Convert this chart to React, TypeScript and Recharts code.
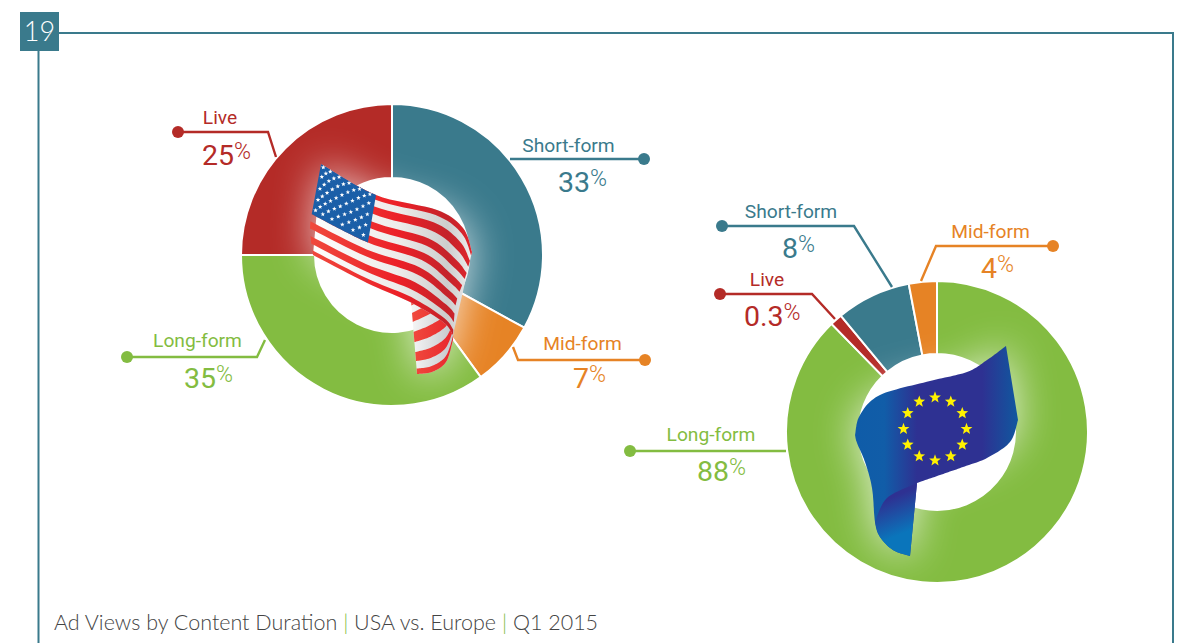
import React from "react";
import { PieChart, Pie, Cell } from "recharts";

type Pt = [number, number];

const categories = ["Short-form", "Mid-form", "Long-form", "Live"];
const usaValues = [33, 7, 35, 25];
const usaLabels = ["33", "7", "35", "25"];

// Europe runs from the top clockwise. Arc sizes are read from the drawn slices,
// the printed labels are a separate list since they do not add up the same way
const europeCategories = ["Long-form", "Live", "Short-form", "Mid-form"];
const europeArcs = [87.7, 1.3, 8, 3];
const europeLabels = ["88", "0.3", "8", "4"];

const COLORS: Record<string, string> = {
  "Short-form": "#3a7a8c",
  "Mid-form": "#e68325",
  "Long-form": "#83bc41",
  Live: "#b42b27",
};

const usaData = categories.map((name, i) => ({ name, value: usaValues[i] }));
const europeData = europeCategories.map((name, i) => ({ name, value: europeArcs[i] }));

const FONT = "Roboto";

// ---- callouts: leader line, dot and the two text rows
const usaCallouts = [
  { name: "Live", line: [[178, 132], [268, 132], [276, 157]], x: 220, y1: 124, x2: 202, y2: 165 },
  { name: "Short-form", line: [[644, 159], [510, 159]], x: 568.5, y1: 152, x2: 558, y2: 192 },
  { name: "Mid-form", line: [[645, 360], [518, 360], [513, 347]], x: 582.5, y1: 350, x2: 573, y2: 388 },
  { name: "Long-form", line: [[127, 357], [257, 357], [265, 340]], x: 197.5, y1: 347, x2: 184, y2: 388 },
];
const europeCallouts = [
  { name: "Short-form", line: [[722, 226], [854, 226], [892, 287]], x: 791, y1: 218, x2: 782, y2: 258 },
  { name: "Mid-form", line: [[1053, 246], [936, 246], [921, 281]], x: 990.5, y1: 238, x2: 981, y2: 278 },
  { name: "Live", line: [[720, 294], [812, 294], [835, 319]], x: 767, y1: 286, x2: 744, y2: 326 },
  { name: "Long-form", line: [[630, 451], [786, 451]], x: 711, y1: 441, x2: 697, y2: 481 },
];

// ---- flag geometry helpers
function cr(pts: Pt[], t: number): Pt {
  const n = pts.length - 1;
  const f = Math.min(Math.max(t, 0), 1) * n;
  const i = Math.min(Math.floor(f), n - 1);
  const s = f - i;
  const p0 = pts[Math.max(i - 1, 0)];
  const p1 = pts[i];
  const p2 = pts[i + 1];
  const p3 = pts[Math.min(i + 2, n)];
  const at = (k: 0 | 1) =>
    0.5 *
    (2 * p1[k] +
      (p2[k] - p0[k]) * s +
      (2 * p0[k] - 5 * p1[k] + 4 * p2[k] - p3[k]) * s * s +
      (3 * p1[k] - p0[k] - 3 * p2[k] + p3[k]) * s * s * s);
  return [at(0), at(1)];
}

function surf(rails: Pt[][], u: number, v: number): Pt {
  return cr(rails.map((r) => cr(r, u)), v);
}

function patch(rails: Pt[][], u0: number, u1: number, v0: number, v1: number) {
  const N = 36;
  const pts: Pt[] = [];
  for (let i = 0; i <= N; i++) pts.push(surf(rails, u0 + ((u1 - u0) * i) / N, v0));
  for (let i = N; i >= 0; i--) pts.push(surf(rails, u0 + ((u1 - u0) * i) / N, v1));
  return "M" + pts.map((p) => p[0].toFixed(1) + "," + p[1].toFixed(1)).join("L") + "Z";
}

function curve(pts: Pt[], steps = 14) {
  const out: Pt[] = [];
  for (let i = 0; i <= steps * (pts.length - 1); i++) out.push(cr(pts, i / (steps * (pts.length - 1))));
  return out;
}

function toPath(pts: Pt[]) {
  return "M" + pts.map((p) => p[0].toFixed(1) + "," + p[1].toFixed(1)).join("L") + "Z";
}

function star(cx: number, cy: number, r: number) {
  const pts: Pt[] = [];
  for (let i = 0; i < 10; i++) {
    const a = -Math.PI / 2 + (i * Math.PI) / 5;
    const q = i % 2 === 0 ? r : r * 0.42;
    pts.push([cx + q * Math.cos(a), cy + q * Math.sin(a)]);
  }
  return toPath(pts);
}

// rails run from the top edge of the flag to its bottom edge
const usaFront: Pt[][] = [
  [[321, 164], [376, 195], [437, 210], [463, 228], [472, 252]],
  [[316, 195], [372, 224], [428, 241], [455, 262], [466, 275]],
  [[310, 226], [366, 254], [418, 272], [448, 295], [456, 303]],
  [[313, 255], [367, 283], [410, 302], [443, 322], [453, 335]],
];
const usaBack: Pt[][] = [
  [[411, 300], [428, 290], [445, 280], [456, 275]],
  [[417, 374], [432, 372], [446, 362], [453, 340]],
];

const euTop: Pt[] = [[855, 435], [860, 415], [880, 395], [930, 381], [967, 372], [987, 360], [1006, 346]];
const euLower: Pt[] = [[1018, 420], [1010, 442], [987, 458], [963, 467], [940, 475], [917, 483]];
const euLeft: Pt[] = [[910, 556], [893, 550], [880, 537], [875, 522], [872, 488], [865, 462], [857, 443], [855, 435]];
const euFoldEdge: Pt[] = [[875, 522], [887, 498], [917, 483]];
const euOutline = toPath([...curve(euTop), ...curve(euLower), ...curve(euLeft)]);
const euFold = toPath([...curve(euFoldEdge), [910, 556], ...curve(euLeft.slice(0, 4))]);

function UsaFlag() {
  const stripes = [];
  for (let i = 0; i < 13; i += 2) {
    stripes.push(<path key={i} d={patch(usaFront, 0, 1, i / 13, (i + 1) / 13)} fill="url(#usRed)" />);
  }
  const backStripes = [];
  for (let i = 0; i < 9; i += 2) {
    backStripes.push(<path key={i} d={patch(usaBack, 0, 1, i / 9, (i + 1) / 9)} fill="url(#usBackRed)" />);
  }
  const stars = [];
  for (let r = 0; r < 9; r++) {
    const cols = r % 2 === 0 ? 6 : 5;
    for (let c = 0; c < cols; c++) {
      const u = ((c + (r % 2 === 0 ? 0.5 : 1)) / 6.1) * 0.25;
      const v = (((r + 0.6) / 9.6) * 7) / 13;
      const p = surf(usaFront, u, v);
      stars.push(<path key={r + "-" + c} d={star(p[0], p[1], 2.4)} fill="#fff" />);
    }
  }
  return (
    <g>
      <path d={patch(usaBack, 0, 1, 0, 1)} fill="url(#usBackWhite)" />
      {backStripes}
      <path d={patch(usaFront, 0, 1, 0, 1)} fill="url(#usWhite)" />
      {stripes}
      <path d={patch(usaFront, 0, 0.25, 0, 7 / 13)} fill="#1b5fa8" />
      {stars}
    </g>
  );
}

function EuropeFlag() {
  const stars = [];
  for (let i = 0; i < 12; i++) {
    const a = (i * Math.PI) / 6;
    stars.push(<path key={i} d={star(935 + 31.5 * Math.sin(a), 429 - 31.5 * Math.cos(a), 6.2)} fill="#fff200" />);
  }
  return (
    <g>
      <path d={euOutline} fill="url(#euBlue)" />
      <path d={euFold} fill="url(#euFold)" />
      {stars}
    </g>
  );
}

function Callout({ c, label }: { c: (typeof usaCallouts)[number]; label: string }) {
  const color = COLORS[c.name];
  const start = c.line[0];
  return (
    <g fontFamily={FONT} fill={color}>
      <polyline points={c.line.map((p) => p.join(",")).join(" ")} fill="none" stroke={color} strokeWidth={2.4} />
      <circle cx={start[0]} cy={start[1]} r={6} />
      <text x={c.x} y={c.y1} fontSize={19.2} textAnchor="middle">
        {c.name}
      </text>
      <text x={c.x2} y={c.y2} fontSize={28.5}>
        {label}
        <tspan fontSize={23} fontWeight={300} dy={-6}>
          %
        </tspan>
      </text>
    </g>
  );
}

export default function App() {
  return (
    <div style={{ position: "absolute", left: 0, top: 0, width: 1177, height: 643, overflow: "hidden", background: "#fff" }}>
      <div style={{ position: "absolute", left: 0, top: 0 }}>
        <PieChart width={1177} height={643} margin={{ top: 0, right: 0, bottom: 0, left: 0 }}>
          <Pie
            data={usaData}
            dataKey="value"
            nameKey="name"
            cx={392}
            cy={255}
            innerRadius={77}
            outerRadius={151}
            startAngle={90}
            endAngle={-270}
            stroke="#fff"
            strokeWidth={2}
            isAnimationActive={false}
          >
            {usaData.map((d) => (
              <Cell key={d.name} fill={COLORS[d.name]} />
            ))}
          </Pie>
          <Pie
            data={europeData}
            dataKey="value"
            nameKey="name"
            cx={937}
            cy={432}
            innerRadius={78}
            outerRadius={151}
            startAngle={90}
            endAngle={-270}
            stroke="#fff"
            strokeWidth={2}
            isAnimationActive={false}
          >
            {europeData.map((d) => (
              <Cell key={d.name} fill={COLORS[d.name]} />
            ))}
          </Pie>
        </PieChart>
      </div>

      <svg width={1177} height={643} style={{ position: "absolute", left: 0, top: 0 }}>
        <defs>
          <filter id="glow" x="-40%" y="-40%" width="180%" height="180%">
            <feGaussianBlur stdDeviation="21" />
          </filter>
          <linearGradient id="usRed" gradientUnits="userSpaceOnUse" x1={308} y1={0} x2={472} y2={0}>
            <stop offset="0" stopColor="#f04a3e" />
            <stop offset="0.55" stopColor="#ec2027" />
            <stop offset="0.85" stopColor="#c4232a" />
            <stop offset="1" stopColor="#e0252c" />
          </linearGradient>
          <linearGradient id="usWhite" gradientUnits="userSpaceOnUse" x1={308} y1={0} x2={472} y2={0}>
            <stop offset="0" stopColor="#ffffff" />
            <stop offset="0.55" stopColor="#eeecea" />
            <stop offset="0.85" stopColor="#cdcdcd" />
            <stop offset="1" stopColor="#eeeeee" />
          </linearGradient>
          <linearGradient id="usBackRed" gradientUnits="userSpaceOnUse" x1={412} y1={0} x2={455} y2={0}>
            <stop offset="0" stopColor="#f04a3e" />
            <stop offset="1" stopColor="#e8252b" />
          </linearGradient>
          <linearGradient id="usBackWhite" gradientUnits="userSpaceOnUse" x1={412} y1={0} x2={455} y2={0}>
            <stop offset="0" stopColor="#f5f5f5" />
            <stop offset="1" stopColor="#c2c5c8" />
          </linearGradient>
          <linearGradient id="euBlue" gradientUnits="userSpaceOnUse" x1={855} y1={0} x2={1018} y2={0}>
            <stop offset="0" stopColor="#0f5ca8" />
            <stop offset="0.18" stopColor="#115da8" />
            <stop offset="0.38" stopColor="#2e3192" />
            <stop offset="0.78" stopColor="#2e3192" />
            <stop offset="1" stopColor="#10589f" />
          </linearGradient>
          <linearGradient id="euFold" gradientUnits="userSpaceOnUse" x1={885} y1={500} x2={905} y2={550}>
            <stop offset="0" stopColor="#2e3192" />
            <stop offset="0.7" stopColor="#0a75bb" />
            <stop offset="1" stopColor="#0a75bb" />
          </linearGradient>
        </defs>

        {/* soft white halo the flags throw on the rings */}
        <g filter="url(#glow)" opacity={0.8}>
          <path d={patch(usaFront, 0, 1, 0, 1)} fill="#fff" />
          <path d={patch(usaBack, 0, 1, 0, 1)} fill="#fff" />
          <path d={euOutline} fill="#fff" />
        </g>

        {/* frame and page number */}
        <polyline points="38.5,51 38.5,643" fill="none" stroke="#3a7a8c" strokeWidth={2} />
        <polyline points="59,33 1173,33 1173,643" fill="none" stroke="#3a7a8c" strokeWidth={2} />
        <rect x={20} y={12} width={39} height={39} fill="#3a7a8c" />
        <text x={39.5} y={41} fontFamily="Lato" fontWeight={300} fontSize={27} fill="#fff" textAnchor="middle">
          19
        </text>

        <UsaFlag />
        <EuropeFlag />

        {usaCallouts.map((c) => (
          <Callout key={c.name} c={c} label={usaLabels[categories.indexOf(c.name)]} />
        ))}
        {europeCallouts.map((c) => (
          <Callout key={c.name} c={c} label={europeLabels[europeCategories.indexOf(c.name)]} />
        ))}

        <text x={54} y={630} fontFamily="Lato" fontWeight={300} fontSize={21.5} fill="#444">
          Ad Views by Content Duration <tspan fill="#83bc41">|</tspan> USA vs. Europe <tspan fill="#83bc41">|</tspan> Q1 2015
        </text>
      </svg>
    </div>
  );
}
